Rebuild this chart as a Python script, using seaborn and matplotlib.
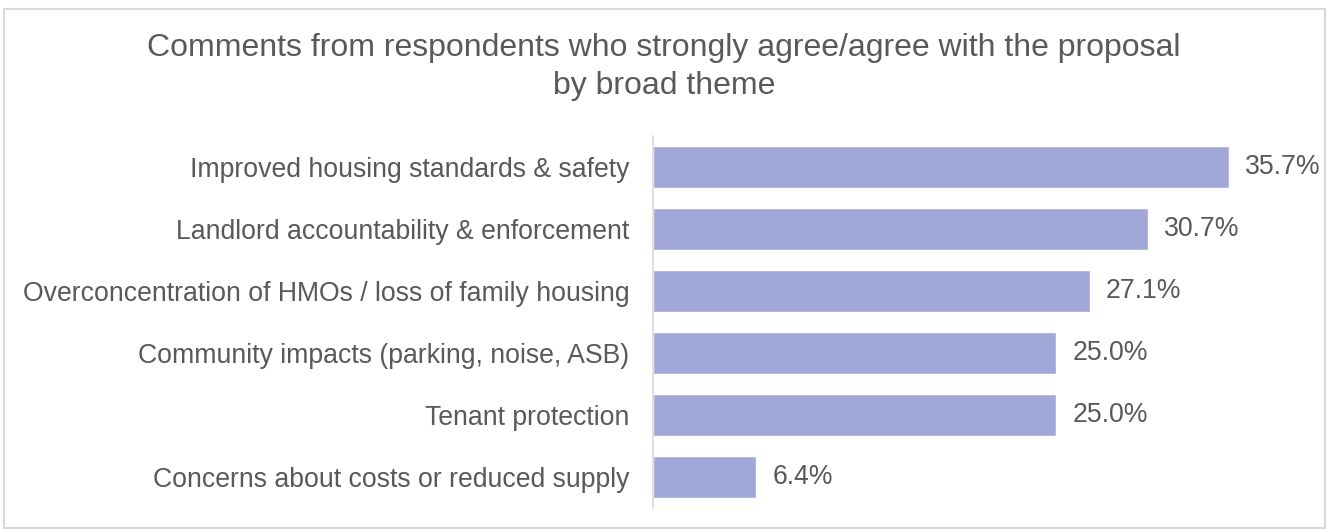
import matplotlib
matplotlib.use("Agg")
import matplotlib.pyplot as plt
from matplotlib.patches import Rectangle
import seaborn as sns
import pandas as pd

themes = [
    "Improved housing standards & safety",
    "Landlord accountability & enforcement",
    "Overconcentration of HMOs / loss of family housing",
    "Community impacts (parking, noise, ASB)",
    "Tenant protection",
    "Concerns about costs or reduced supply",
]
shares = [35.7, 30.7, 27.1, 25.0, 25.0, 6.4]
value_labels = ["35.7%", "30.7%", "27.1%", "25.0%", "25.0%", "6.4%"]
title = "Comments from respondents who strongly agree/agree with the proposal\nby broad theme"

sns.set_theme(style="white")
plt.rcParams["font.family"] = ["Liberation Sans", "DejaVu Sans"]

text_color = "#595959"
bar_color = "#A2A7D9"

df = pd.DataFrame({"theme": themes, "share": shares})

fig = plt.figure(figsize=(13.28, 5.32), dpi=100)
ax = fig.add_axes([0.4917, 0.0451, 0.487, 0.6993])

sns.barplot(data=df, x="share", y="theme", color=bar_color, width=0.68,
            saturation=1, ax=ax, orient="h")

ax.set_xlim(0, 40.1)
ax.set_ylim(5.5, -0.5)
ax.set_xlabel("")
ax.set_ylabel("")
ax.set_xticks([])
for side in ["top", "right", "bottom"]:
    ax.spines[side].set_visible(False)
ax.spines["left"].set_color("#D9D9D9")
ax.spines["left"].set_linewidth(1.2)
ax.tick_params(axis="y", length=0, pad=17, labelsize=19.2, labelcolor=text_color)

for bar, lab in zip(ax.patches, value_labels):
    ax.annotate(lab, (bar.get_width(), bar.get_y() + bar.get_height() / 2),
                xytext=(16, 0), textcoords="offset pixels",
                va="center", ha="left", fontsize=19.2, color=text_color)

fig.text(0.5, 0.874, title, ha="center", va="center", fontsize=23,
         color=text_color, linespacing=1.32)

fig.patches.append(Rectangle((0.003, 0.008), 0.995, 0.975, transform=fig.transFigure,
                             fill=False, edgecolor="#D9D9D9", linewidth=1.5))

fig.savefig("out.png", dpi=100)
